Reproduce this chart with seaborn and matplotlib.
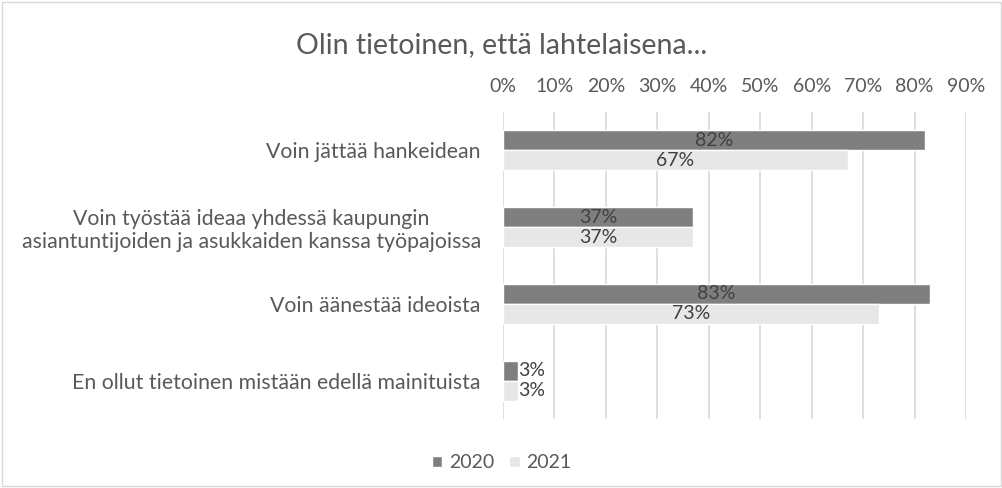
import matplotlib
matplotlib.use("Agg")
import matplotlib.pyplot as plt
import seaborn as sns
import pandas as pd
from matplotlib.patches import Rectangle
from matplotlib.ticker import PercentFormatter

categories = [
    "Voin jättää hankeidean",
    "Voin työstää ideaa yhdessä kaupungin\nasiantuntijoiden ja asukkaiden kanssa työpajoissa",
    "Voin äänestää ideoista",
    "En ollut tietoinen mistään edellä mainituista",
]
years = ["2020", "2021"]
values_2020 = [82, 37, 83, 3]
values_2021 = [67, 37, 73, 3]
xticks = [0, 10, 20, 30, 40, 50, 60, 70, 80, 90]

df = pd.DataFrame({
    "category": categories * 2,
    "year": [years[0]] * 4 + [years[1]] * 4,
    "value": values_2020 + values_2021,
})

sns.set_theme(style="white")
plt.rcParams["font.family"] = ["Lato", "DejaVu Sans"]
text_color = "#595959"

fig = plt.figure(figsize=(10.03, 4.88), dpi=100)
ax = fig.add_axes([503/1003, 1 - 419/488, (966 - 503)/1003, (419 - 112)/488])

sns.barplot(data=df, y="category", x="value", hue="year", order=categories,
            hue_order=years, palette=["#7f7f7f", "#e7e7e7"], width=0.52,
            orient="h", ax=ax, legend=True, saturation=1)

ax.set_xlim(0, 90)
ax.set_xticks(xticks)
ax.xaxis.set_major_formatter(PercentFormatter(decimals=0))
ax.xaxis.tick_top()
ax.tick_params(axis="x", length=0, pad=12, labelsize=14, colors=text_color)
ax.tick_params(axis="y", length=0, pad=16, labelsize=15.3, colors=text_color)
for lab in ax.get_yticklabels():
    lab.set_multialignment("center")
ax.set_xlabel("")
ax.set_ylabel("")
for s in ax.spines.values():
    s.set_visible(False)
ax.grid(axis="x", color="#d9d9d9", linewidth=1.2)
ax.set_axisbelow(True)

for cont, vals in zip(ax.containers, [values_2020, values_2021]):
    for patch, v in zip(cont, vals):
        x0 = patch.get_x()
        w = patch.get_width()
        yc = patch.get_y() + patch.get_height() / 2
        if v < 8:
            ax.text(x0 + w, yc, f"{v}%", ha="left", va="center",
                    fontsize=14, color="#404040")
        else:
            ax.text(x0 + w / 2, yc, f"{v}%", ha="center", va="center",
                    fontsize=14, color="#404040")

leg = ax.legend(loc="center", bbox_to_anchor=(0.5, 1 - 463/488), bbox_transform=fig.transFigure,
                ncol=2, frameon=False, fontsize=14, handlelength=0.55, handleheight=0.55,
                handletextpad=0.35, columnspacing=0.75)
for t in leg.get_texts():
    t.set_color(text_color)

fig.text(0.5, 1 - 45/488, "Olin tietoinen, että lahtelaisena...", ha="center", va="center",
         fontsize=20.5, color=text_color)

fig.patches.append(Rectangle((2/1003, 2/488), 1 - 4/1003, 1 - 4/488, transform=fig.transFigure,
                             fill=False, edgecolor="#d9d9d9", linewidth=1))

fig.savefig("out.png", dpi=100)
